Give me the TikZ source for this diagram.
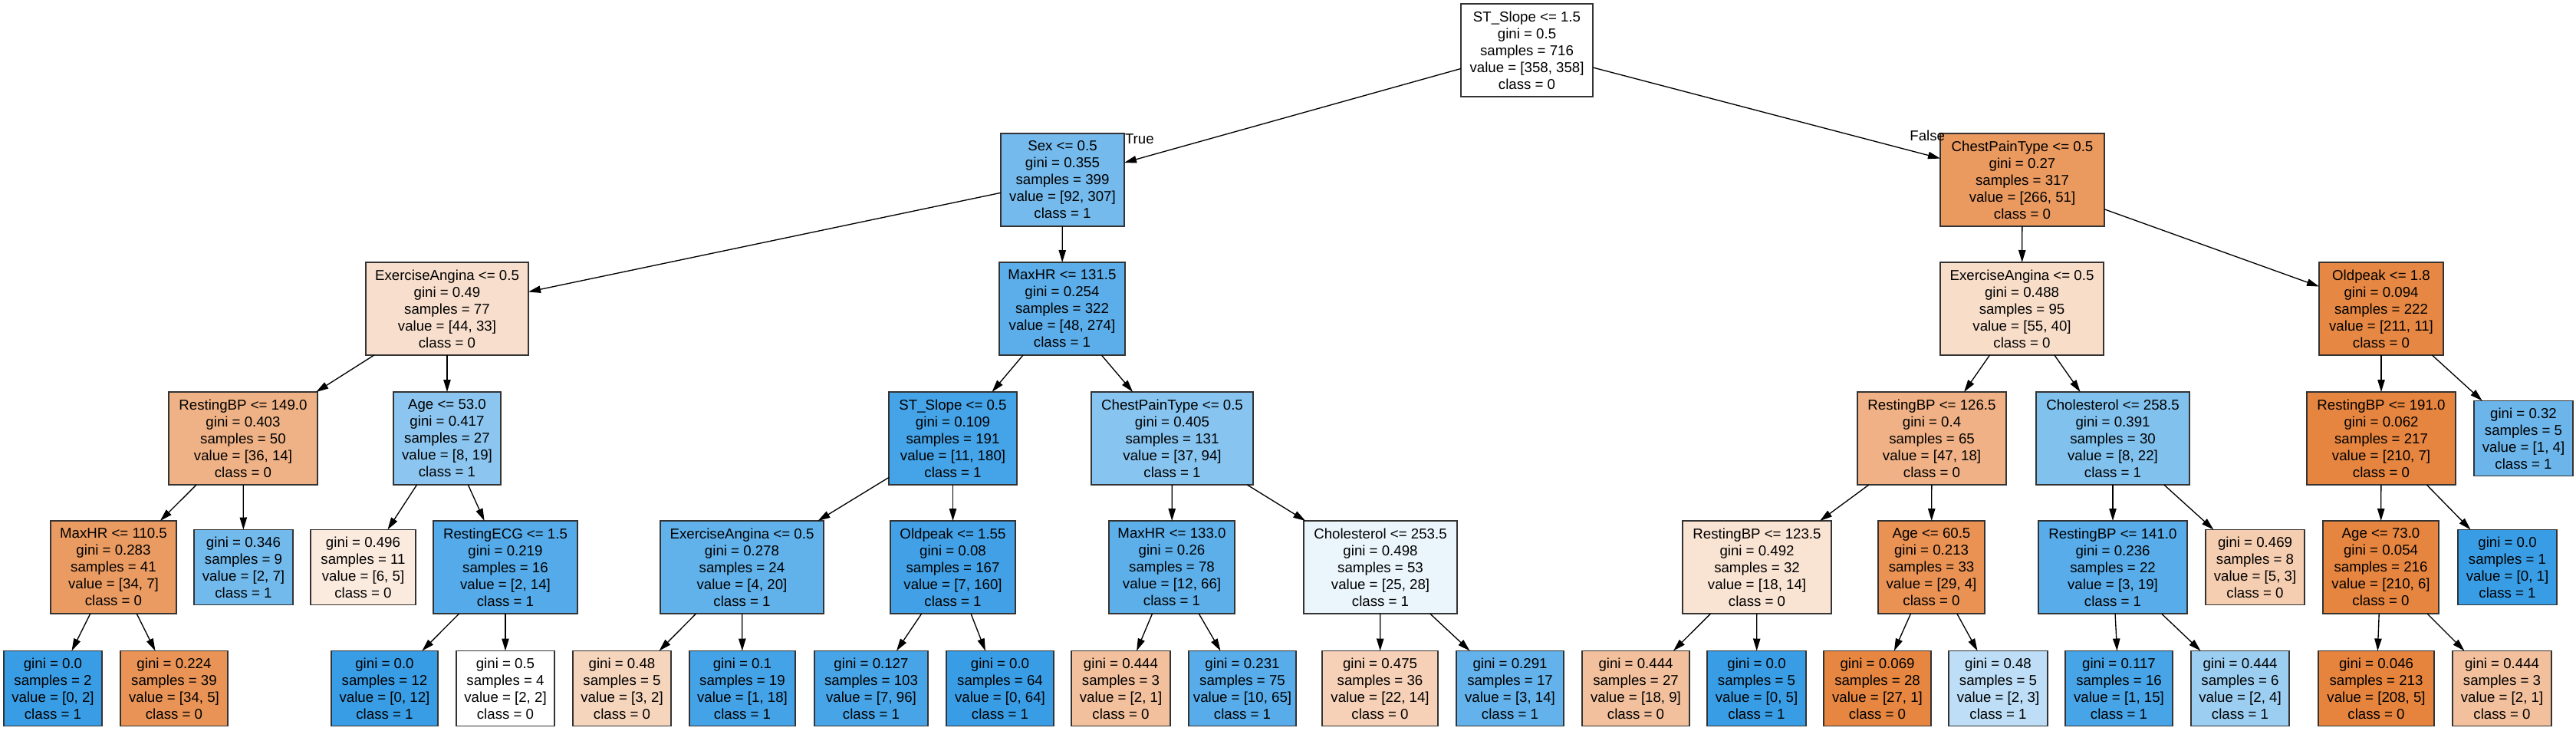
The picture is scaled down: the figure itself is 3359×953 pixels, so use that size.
\documentclass[tikz,border=0pt]{standalone}
\usepackage{fontspec}
\setmainfont{Liberation Sans}
\usetikzlibrary{arrows.meta}
\definecolor{cls0}{RGB}{229,129,57}
\definecolor{cls1}{RGB}{57,157,229}
\begin{document}
\begin{tikzpicture}[y=0.75pt, x=0.75pt, yscale=-1.000000, xscale=1.000000, inner sep=0pt, outer sep=0pt,
  every node/.style={font=\fontsize{14pt}{16.5pt}\selectfont},
  tbox/.style={draw=black!80, line width=1.3pt, align=center, minimum width=0.75pt*#1},
  split/.style={tbox=#1, minimum height=90.75pt},
  leaf/.style={tbox=#1, minimum height=73.5pt},
  arc/.style={draw=black, line width=1pt, -{Triangle[length=12pt,width=7pt]}}]
  \useasboundingbox (0,0) rectangle (3359,953);
  % level 0 and 1
  \path (1991,65.5) node[split=172, fill=white] (node0)
    {ST\_Slope <= 1.5\\gini = 0.5\\samples = 716\\value = [358, 358]\\class = 0};
  \path (1385.5,234.5) node[split=161, fill=cls1!70] (node1)
    {Sex <= 0.5\\gini = 0.355\\samples = 399\\value = [92, 307]\\class = 1};
  \path (2637,234.5) node[split=214, fill=cls0!80.8] (node28)
    {ChestPainType <= 0.5\\gini = 0.27\\samples = 317\\value = [266, 51]\\class = 0};
  \path (1467,187) node[anchor=base west] (texttrue) {True};
  \path (2536,183) node[anchor=base east] (textfalse) {False};
  % level 2
  \path (583,402.5) node[split=212, fill=cls0!25] (node2)
    {ExerciseAngina <= 0.5\\gini = 0.49\\samples = 77\\value = [44, 33]\\class = 0};
  \path (1385,402.5) node[split=164, fill=cls1!82.5] (node13)
    {MaxHR <= 131.5\\gini = 0.254\\samples = 322\\value = [48, 274]\\class = 1};
  \path (2636.5,402.5) node[split=213, fill=cls0!27.3] (node29)
    {ExerciseAngina <= 0.5\\gini = 0.488\\samples = 95\\value = [55, 40]\\class = 0};
  \path (3105,402.5) node[split=162, fill=cls0!94.8] (node42)
    {Oldpeak <= 1.8\\gini = 0.094\\samples = 222\\value = [211, 11]\\class = 0};
  % level 3
  \path (317,571.5) node[split=194, fill=cls0!61.1] (node3)
    {RestingBP <= 149.0\\gini = 0.403\\samples = 50\\value = [36, 14]\\class = 0};
  \path (583,571.5) node[split=140, fill=cls1!57.9] (node8)
    {Age <= 53.0\\gini = 0.417\\samples = 27\\value = [8, 19]\\class = 1};
  \path (1242.5,571.5) node[split=167, fill=cls1!93.9] (node14)
    {ST\_Slope <= 0.5\\gini = 0.109\\samples = 191\\value = [11, 180]\\class = 1};
  \path (1528.5,571.5) node[split=211, fill=cls1!60.6] (node21)
    {ChestPainType <= 0.5\\gini = 0.405\\samples = 131\\value = [37, 94]\\class = 1};
  \path (2519,571.5) node[split=194, fill=cls0!61.7] (node30)
    {RestingBP <= 126.5\\gini = 0.4\\samples = 65\\value = [47, 18]\\class = 0};
  \path (2755,571.5) node[split=200, fill=cls1!63.6] (node37)
    {Cholesterol <= 258.5\\gini = 0.391\\samples = 30\\value = [8, 22]\\class = 1};
  \path (3105,571.5) node[split=194, fill=cls0!96.7] (node43)
    {RestingBP <= 191.0\\gini = 0.062\\samples = 217\\value = [210, 7]\\class = 0};
  \path (3290.5,571.5) node[leaf=129, fill=cls1!75] (node48)
    {gini = 0.32\\samples = 5\\value = [1, 4]\\class = 1};
  % level 4
  \path (148,739.5) node[split=164, fill=cls0!79.4] (node4)
    {MaxHR <= 110.5\\gini = 0.283\\samples = 41\\value = [34, 7]\\class = 0};
  \path (317.5,739.5) node[leaf=129, fill=cls1!71.4] (node7)
    {gini = 0.346\\samples = 9\\value = [2, 7]\\class = 1};
  \path (473.5,739.5) node[leaf=137, fill=cls0!16.7] (node9)
    {gini = 0.496\\samples = 11\\value = [6, 5]\\class = 0};
  \path (659,739.5) node[split=188, fill=cls1!85.7] (node10)
    {RestingECG <= 1.5\\gini = 0.219\\samples = 16\\value = [2, 14]\\class = 1};
  \path (967.5,739.5) node[split=213, fill=cls1!80] (node15)
    {ExerciseAngina <= 0.5\\gini = 0.278\\samples = 24\\value = [4, 20]\\class = 1};
  \path (1242.5,739.5) node[split=163, fill=cls1!95.6] (node18)
    {Oldpeak <= 1.55\\gini = 0.08\\samples = 167\\value = [7, 160]\\class = 1};
  \path (1528,739.5) node[split=164, fill=cls1!81.8] (node22)
    {MaxHR <= 133.0\\gini = 0.26\\samples = 78\\value = [12, 66]\\class = 1};
  \path (1800,739.5) node[split=200, fill=cls1!10.7] (node25)
    {Cholesterol <= 253.5\\gini = 0.498\\samples = 53\\value = [25, 28]\\class = 1};
  \path (2291,739.5) node[split=194, fill=cls0!22.2] (node31)
    {RestingBP <= 123.5\\gini = 0.492\\samples = 32\\value = [18, 14]\\class = 0};
  \path (2518.5,739.5) node[split=139, fill=cls0!86.2] (node34)
    {Age <= 60.5\\gini = 0.213\\samples = 33\\value = [29, 4]\\class = 0};
  \path (2755,739.5) node[split=194, fill=cls1!84.2] (node38)
    {RestingBP <= 141.0\\gini = 0.236\\samples = 22\\value = [3, 19]\\class = 1};
  \path (2940.5,739.5) node[leaf=129, fill=cls0!40] (node41)
    {gini = 0.469\\samples = 8\\value = [5, 3]\\class = 0};
  \path (3104.5,739.5) node[split=151, fill=cls0!97.1] (node44)
    {Age <= 73.0\\gini = 0.054\\samples = 216\\value = [210, 6]\\class = 0};
  \path (3269.5,739.5) node[leaf=129, fill=cls1] (node47)
    {gini = 0.0\\samples = 1\\value = [0, 1]\\class = 1};
  % level 5
  \path (69,897.5) node[leaf=128, fill=cls1] (node5)
    {gini = 0.0\\samples = 2\\value = [0, 2]\\class = 1};
  \path (227,897.5) node[leaf=140, fill=cls0!85.3] (node6)
    {gini = 0.224\\samples = 39\\value = [34, 5]\\class = 0};
  \path (501.5,897.5) node[leaf=139, fill=cls1] (node11)
    {gini = 0.0\\samples = 12\\value = [0, 12]\\class = 1};
  \path (659,897.5) node[leaf=128, fill=white] (node12)
    {gini = 0.5\\samples = 4\\value = [2, 2]\\class = 0};
  \path (811,897.5) node[leaf=128, fill=cls0!33.3] (node16)
    {gini = 0.48\\samples = 5\\value = [3, 2]\\class = 0};
  \path (968,897.5) node[leaf=138, fill=cls1!94.4] (node17)
    {gini = 0.1\\samples = 19\\value = [1, 18]\\class = 1};
  \path (1136,897.5) node[leaf=148, fill=cls1!92.7] (node19)
    {gini = 0.127\\samples = 103\\value = [7, 96]\\class = 1};
  \path (1304,897.5) node[leaf=140, fill=cls1] (node20)
    {gini = 0.0\\samples = 64\\value = [0, 64]\\class = 1};
  \path (1461.5,897.5) node[leaf=129, fill=cls0!50] (node23)
    {gini = 0.444\\samples = 3\\value = [2, 1]\\class = 0};
  \path (1620,897.5) node[leaf=140, fill=cls1!84.6] (node24)
    {gini = 0.231\\samples = 75\\value = [10, 65]\\class = 1};
  \path (1799.5,897.5) node[leaf=151, fill=cls0!36.4] (node26)
    {gini = 0.475\\samples = 36\\value = [22, 14]\\class = 0};
  \path (1969,897.5) node[leaf=140, fill=cls1!78.6] (node27)
    {gini = 0.291\\samples = 17\\value = [3, 14]\\class = 1};
  \path (2133,897.5) node[leaf=140, fill=cls0!50] (node32)
    {gini = 0.444\\samples = 27\\value = [18, 9]\\class = 0};
  \path (2290.5,897.5) node[leaf=129, fill=cls1] (node33)
    {gini = 0.0\\samples = 5\\value = [0, 5]\\class = 1};
  \path (2448,897.5) node[leaf=140, fill=cls0!96.3] (node35)
    {gini = 0.069\\samples = 28\\value = [27, 1]\\class = 0};
  \path (2605.5,897.5) node[leaf=129, fill=cls1!33.3] (node36)
    {gini = 0.48\\samples = 5\\value = [2, 3]\\class = 1};
  \path (2763,897.5) node[leaf=140, fill=cls1!93.3] (node39)
    {gini = 0.117\\samples = 16\\value = [1, 15]\\class = 1};
  \path (2921,897.5) node[leaf=128, fill=cls1!50] (node40)
    {gini = 0.444\\samples = 6\\value = [2, 4]\\class = 1};
  \path (3098.5,897.5) node[leaf=151, fill=cls0!97.6] (node45)
    {gini = 0.046\\samples = 213\\value = [208, 5]\\class = 0};
  \path (3262.5,897.5) node[leaf=129, fill=cls0!50] (node46)
    {gini = 0.444\\samples = 3\\value = [2, 1]\\class = 0};
  % edges
  \path[arc] (node0) -- (node1);
  \path[arc] (node0) -- (node28);
  \path[arc] (node1) -- (node2);
  \path[arc] (node1) -- (node13);
  \path[arc] (node2) -- (node3);
  \path[arc] (node2) -- (node8);
  \path[arc] (node3) -- (node4);
  \path[arc] (node3) -- (node7);
  \path[arc] (node4) -- (node5);
  \path[arc] (node4) -- (node6);
  \path[arc] (node8) -- (node9);
  \path[arc] (node8) -- (node10);
  \path[arc] (node10) -- (node11);
  \path[arc] (node10) -- (node12);
  \path[arc] (node13) -- (node14);
  \path[arc] (node13) -- (node21);
  \path[arc] (node14) -- (node15);
  \path[arc] (node14) -- (node18);
  \path[arc] (node15) -- (node16);
  \path[arc] (node15) -- (node17);
  \path[arc] (node18) -- (node19);
  \path[arc] (node18) -- (node20);
  \path[arc] (node21) -- (node22);
  \path[arc] (node21) -- (node25);
  \path[arc] (node22) -- (node23);
  \path[arc] (node22) -- (node24);
  \path[arc] (node25) -- (node26);
  \path[arc] (node25) -- (node27);
  \path[arc] (node28) -- (node29);
  \path[arc] (node28) -- (node42);
  \path[arc] (node29) -- (node30);
  \path[arc] (node29) -- (node37);
  \path[arc] (node30) -- (node31);
  \path[arc] (node30) -- (node34);
  \path[arc] (node31) -- (node32);
  \path[arc] (node31) -- (node33);
  \path[arc] (node34) -- (node35);
  \path[arc] (node34) -- (node36);
  \path[arc] (node37) -- (node38);
  \path[arc] (node37) -- (node41);
  \path[arc] (node38) -- (node39);
  \path[arc] (node38) -- (node40);
  \path[arc] (node42) -- (node43);
  \path[arc] (node42) -- (node48);
  \path[arc] (node43) -- (node44);
  \path[arc] (node43) -- (node47);
  \path[arc] (node44) -- (node45);
  \path[arc] (node44) -- (node46);

\end{tikzpicture}
\end{document}
